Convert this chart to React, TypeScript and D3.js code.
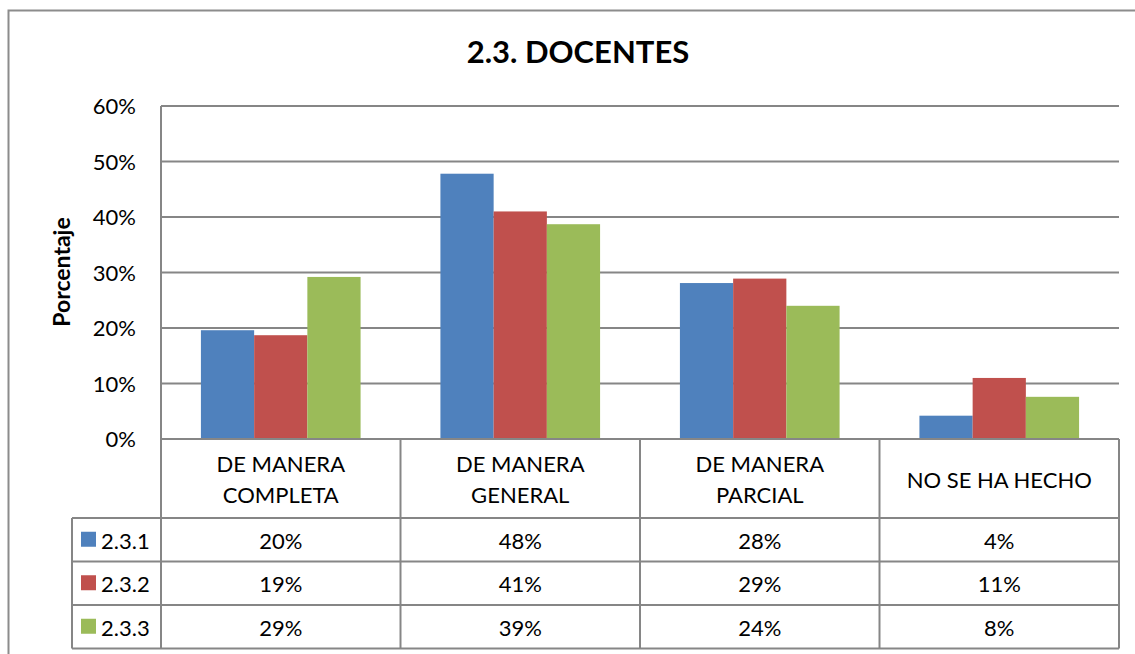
import * as d3 from 'd3';

const categories = [['DE MANERA', 'COMPLETA'], ['DE MANERA', 'GENERAL'], ['DE MANERA', 'PARCIAL'], ['NO SE HA HECHO']];
const seriesNames = ['2.3.1', '2.3.2', '2.3.3'];
const seriesColors = ['#4F81BD', '#C0504D', '#9BBB59'];
const values231 = [19.6, 47.8, 28.1, 4.2];
const values232 = [18.7, 41.0, 28.9, 11.0];
const values233 = [29.2, 38.7, 24.0, 7.6];
const tableLabels231 = ['20%', '48%', '28%', '4%'];
const tableLabels232 = ['19%', '41%', '29%', '11%'];
const tableLabels233 = ['29%', '39%', '24%', '8%'];
const yTicks = [0, 10, 20, 30, 40, 50, 60];

const series = [values231, values232, values233];
const tableLabels = [tableLabels231, tableLabels232, tableLabels233];

const FONT = 'Lato, "Open Sans", sans-serif';
const GRID = '#868686';
const FS = 22;

export default function App() {
  const W = 1135;
  const H = 654;
  const left = 161;
  const right = 1119;
  const top = 106;
  const bottom = 439;
  const headerBottom = 518;
  const rowH = 43.5;
  const legendLeft = 72;

  const y = d3.scaleLinear().domain([0, 60]).range([bottom, top]);
  const x = d3.scaleBand<number>().domain(d3.range(categories.length)).range([left, right]).paddingInner(0).paddingOuter(0);
  const inner = d3.scaleBand<number>().domain(d3.range(seriesNames.length)).range([0, x.bandwidth()]).paddingOuter(0.75).paddingInner(0);

  const tableBottom = headerBottom + rowH * seriesNames.length;

  return (
    <svg width={W} height={H} style={{ position: 'absolute', left: 0, top: 0, background: '#fff' }} fontFamily={FONT}>
      <rect x={8.5} y={10.5} width={W + 10} height={H + 10} fill="#fff" stroke="#8c8c8c" strokeWidth={2} />
      <text x={578} y={63} textAnchor="middle" fontSize={31} fontWeight="bold" fill="#000">2.3. DOCENTES</text>
      <text transform={`translate(70,272) rotate(-90)`} textAnchor="middle" fontSize={23} fontWeight="bold" fill="#000">Porcentaje</text>

      {yTicks.map(t => (
        <g key={t}>
          <line x1={left} x2={right} y1={y(t)} y2={y(t)} stroke={GRID} strokeWidth={2} />
          <text x={136} y={y(t) + 8} textAnchor="end" fontSize={FS} fill="#000">{t}%</text>
        </g>
      ))}

      {series.map((vals, si) => vals.map((v, ci) => (
        <rect key={`${si}-${ci}`} x={(x(ci) ?? 0) + (inner(si) ?? 0)} y={y(v)} width={inner.bandwidth()} height={bottom - y(v)}
          fill={seriesColors[si]} />
      )))}

      {/* data table */}
      <g stroke={GRID} strokeWidth={2} fill="none">
        <line x1={left} x2={left} y1={top} y2={tableBottom} />
        <line x1={right} x2={right} y1={bottom} y2={tableBottom} />
        {categories.map((_, ci) => ci > 0 && (
          <line key={ci} x1={x(ci)} x2={x(ci)} y1={bottom} y2={tableBottom} />
        ))}
        <line x1={left} x2={right} y1={bottom} y2={bottom} />
        {seriesNames.map((_, si) => (
          <line key={si} x1={legendLeft} x2={right} y1={headerBottom + rowH * si} y2={headerBottom + rowH * si} />
        ))}
        <line x1={legendLeft} x2={right} y1={tableBottom} y2={tableBottom} />
        <line x1={legendLeft} x2={legendLeft} y1={headerBottom} y2={tableBottom} />
      </g>

      {categories.map((lines, ci) => {
        const cx = (x(ci) ?? 0) + x.bandwidth() / 2;
        const cy = (bottom + headerBottom) / 2;
        return (
          <text key={ci} textAnchor="middle" fontSize={FS} fill="#000">
            {lines.map((l, li) => (
              <tspan key={li} x={cx} y={cy + 9 + (li - (lines.length - 1) / 2) * 31}>{l}</tspan>
            ))}
          </text>
        );
      })}

      {seriesNames.map((name, si) => {
        const rowMid = headerBottom + rowH * si + rowH / 2;
        return (
          <g key={name}>
            <rect x={81} y={rowMid - 8} width={15} height={15} fill={seriesColors[si]} />
            <text x={101} y={rowMid + 9} fontSize={FS} fill="#000">{name}</text>
            {tableLabels[si].map((lab, ci) => (
              <text key={ci} x={(x(ci) ?? 0) + x.bandwidth() / 2} y={rowMid + 9} textAnchor="middle" fontSize={FS} fill="#000">{lab}</text>
            ))}
          </g>
        );
      })}
    </svg>
  );
}
